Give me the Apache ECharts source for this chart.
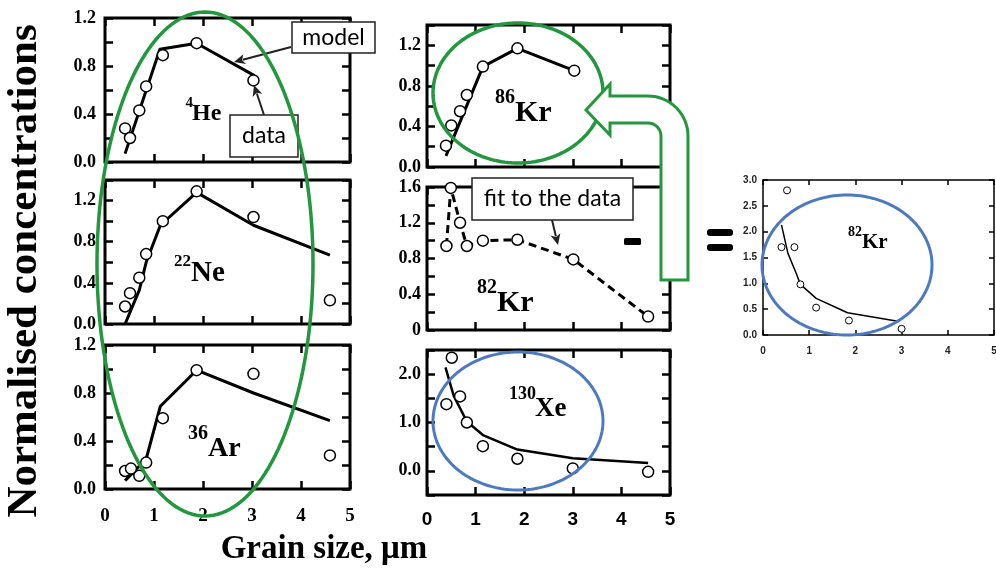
<!DOCTYPE html>
<html><head><meta charset="utf-8">
<script src="https://cdn.jsdelivr.net/npm/echarts@6/dist/echarts.min.js"></script>
<style>html,body{margin:0;padding:0;background:#fff}#c{width:996px;height:573px}</style>
</head><body><div id="c"></div>
<script>
// ---------- data ----------
const xTicks = [0, 1, 2, 3, 4, 5];
const heDataX  = [0.41, 0.51, 0.70, 0.84, 1.18, 1.87, 3.03];
const heDataY  = [0.28, 0.20, 0.43, 0.63, 0.89, 0.99, 0.68];
const heModelX = [0.41, 1.12, 1.87, 3.05];
const heModelY = [0.07, 0.94, 0.99, 0.72];

const neDataX  = [0.41, 0.51, 0.70, 0.84, 1.18, 1.87, 3.03, 4.59];
const neDataY  = [0.17, 0.30, 0.45, 0.68, 1.00, 1.29, 1.04, 0.23];
const neModelX = [0.41, 0.70, 0.84, 1.13, 1.87, 3.03, 4.59];
const neModelY = [0.00, 0.33, 0.60, 0.96, 1.28, 0.96, 0.67];

const arDataX  = [0.41, 0.53, 0.70, 0.84, 1.18, 1.87, 3.03, 4.59];
const arDataY  = [0.15, 0.17, 0.11, 0.22, 0.59, 0.99, 0.96, 0.28];
const arModelX = [0.41, 0.84, 1.13, 1.87, 3.03, 4.59];
const arModelY = [0.07, 0.25, 0.69, 0.99, 0.80, 0.57];

const kr86DataX  = [0.39, 0.50, 0.68, 0.82, 1.15, 1.86, 3.03];
const kr86DataY  = [0.21, 0.41, 0.55, 0.71, 0.99, 1.17, 0.95];
const kr86ModelX = [0.39, 1.15, 1.86, 3.03];
const kr86ModelY = [0.11, 0.99, 1.17, 0.95];

const kr82DataX = [0.40, 0.49, 0.68, 0.82, 1.15, 1.86, 3.01, 4.55];
const kr82DataY = [0.94, 1.59, 1.20, 0.94, 1.00, 1.01, 0.79, 0.15];

const xeDataX  = [0.40, 0.51, 0.68, 0.82, 1.15, 1.86, 3.00, 4.55];
const xeDataY  = [1.38, 2.34, 1.54, 1.00, 0.51, 0.25, 0.05, -0.02];
const xeModelX = [0.38, 0.55, 0.82, 1.15, 1.86, 3.00, 4.55];
const xeModelY = [2.14, 1.55, 1.02, 0.74, 0.44, 0.26, 0.16];

const kr82rDataX  = [0.40, 0.52, 0.68, 0.81, 1.15, 1.86, 3.00];
const kr82rDataY  = [1.70, 2.80, 1.70, 0.98, 0.53, 0.28, 0.12];
const kr82rModelX = [0.40, 0.54, 0.72, 0.81, 1.15, 1.83, 2.95];
const kr82rModelY = [2.13, 1.58, 1.19, 0.98, 0.71, 0.43, 0.26];

// ---------- builders ----------
const SERIF = '"Liberation Serif", "DejaVu Serif", serif';
const SANS = '"Liberation Sans", Arial, sans-serif';
const grids = [], xAxes = [], yAxes = [], series = [];
const pair = (xs, ys) => xs.map((x, i) => [x, ys[i]]);
const near = (v, s) => Math.abs(v / s - Math.round(v / s)) < 1e-6;

function addPanel(box, o) {
  const gi = grids.length;
  grids.push({left: box[0], top: box[1], width: box[2], height: box[3], show: true,
    borderColor: '#000', borderWidth: o.bw, backgroundColor: 'rgba(0,0,0,0)',
    containLabel: false, outerBoundsMode: 'none'});
  const tick = {show: true, inside: true, length: o.tl, lineStyle: {color: '#000', width: o.tw}};
  const base = {gridIndex: gi, type: 'value', axisLine: {show: false, onZero: false}, splitLine: {show: false}, axisTick: tick};
  xAxes.push(Object.assign({}, base, {min: xTicks[0], max: xTicks[xTicks.length - 1], interval: 1, position: 'bottom',
    axisLabel: o.xl ? Object.assign({show: true, color: '#000', fontWeight: 'bold'}, o.xl) : {show: false}}));
  xAxes.push(Object.assign({}, base, {min: xTicks[0], max: xTicks[xTicks.length - 1], interval: 1, position: 'top', axisLabel: {show: false}}));
  yAxes.push(Object.assign({}, base, {min: o.ymin, max: o.ymax, interval: o.yi, position: 'left',
    axisLabel: Object.assign({show: true, color: '#000', fontWeight: 'bold'}, o.yl)}));
  yAxes.push(Object.assign({}, base, {min: o.ymin, max: o.ymax, interval: o.yi, position: 'right', axisLabel: {show: false}}));
  return {x: xAxes.length - 2, y: yAxes.length - 2};
}
function addLine(p, xs, ys, w, type) {
  series.push({type: 'line', xAxisIndex: p.x, yAxisIndex: p.y, data: pair(xs, ys), symbol: 'none', showSymbol: false,
    lineStyle: {color: '#000', width: w, type: type || 'solid'}, silent: true, animation: false, z: 3});
}
function addDots(p, xs, ys, size, bw) {
  series.push({type: 'scatter', xAxisIndex: p.x, yAxisIndex: p.y, data: pair(xs, ys), symbol: 'circle', symbolSize: size,
    itemStyle: {color: '#fff', borderColor: '#000', borderWidth: bw, opacity: 1}, silent: true, animation: false, z: 4});
}

const leftY = {fontFamily: SERIF, fontSize: 18, margin: 9, formatter: v => near(v, 0.4) ? v.toFixed(1) : ''};
const midY = {fontFamily: SERIF, fontSize: 18, margin: 6, formatter: v => near(v, 0.4) ? v.toFixed(1) : ''};
const big = {bw: 3, tl: 8, tw: 2.5};

const pHe = addPanel([105, 18, 245, 144], Object.assign({}, big, {ymin: 0, ymax: 1.2, yi: 0.2, yl: leftY}));
const pNe = addPanel([105, 180, 245, 144], Object.assign({}, big, {ymin: 0, ymax: 1.4, yi: 0.2, yl: leftY}));
const pAr = addPanel([105, 345, 245, 144], Object.assign({}, big, {ymin: 0, ymax: 1.2, yi: 0.2, yl: leftY,
  xl: {fontFamily: SERIF, fontSize: 19, margin: 18}}));
const pK86 = addPanel([427, 25, 243, 142], Object.assign({}, big, {ymin: 0, ymax: 1.4, yi: 0.2, yl: midY}));
const pK82 = addPanel([427, 187, 243, 143], Object.assign({}, big, {ymin: 0, ymax: 1.6, yi: 0.2,
  yl: Object.assign({}, midY, {formatter: v => v === 0 ? '0' : (near(v, 0.4) ? v.toFixed(1) : '')})}));
const pXe = addPanel([427, 350, 243, 145], Object.assign({}, big, {ymin: -0.5, ymax: 2.5, yi: 0.5,
  yl: Object.assign({}, midY, {formatter: v => near(v, 1) ? v.toFixed(1) : ''}),
  xl: {fontFamily: SANS, fontSize: 19, margin: 15}}));
const pR = addPanel([763, 180, 231, 155], {bw: 1.5, tl: 5, tw: 1.5, ymin: 0, ymax: 3, yi: 0.5,
  yl: {fontFamily: SANS, fontSize: 10, margin: 6, color: '#222', formatter: v => v.toFixed(1)},
  xl: {fontFamily: SANS, fontSize: 10, margin: 11, color: '#222'}});

addLine(pHe, heModelX, heModelY, 3);    addDots(pHe, heDataX, heDataY, 11, 1.5);
addLine(pNe, neModelX, neModelY, 3);    addDots(pNe, neDataX, neDataY, 11, 1.5);
addLine(pAr, arModelX, arModelY, 3);    addDots(pAr, arDataX, arDataY, 11, 1.5);
addLine(pK86, kr86ModelX, kr86ModelY, 3); addDots(pK86, kr86DataX, kr86DataY, 11, 1.5);
addLine(pK82, kr82DataX, kr82DataY, 3, [8, 5]); addDots(pK82, kr82DataX, kr82DataY, 11, 1.5);
addLine(pXe, xeModelX, xeModelY, 2.5);  addDots(pXe, xeDataX, xeDataY, 11, 1.5);
addLine(pR, kr82rModelX, kr82rModelY, 1.5); addDots(pR, kr82rDataX, kr82rDataY, 7, 1);

// ---------- decorations ----------
const GREEN = '#22973d', BLUE = '#4d79c2';
const g = [];
function ellipse(cx, cy, rx, ry, color, w) {
  const pts = [];
  for (let i = 0; i < 160; i++) { const a = i / 160 * 2 * Math.PI; pts.push([cx + rx * Math.cos(a), cy + ry * Math.sin(a)]); }
  g.push({type: 'polygon', shape: {points: pts}, style: {fill: 'none', stroke: color, lineWidth: w}, z: 50, silent: true});
}
function text(x, y, s, size, fam, weight, align, z, extra) {
  g.push(Object.assign({type: 'text', x: x, y: y, z: z || 45, silent: true,
    style: {text: s, fontSize: size, fontFamily: fam, fontWeight: weight, fill: '#000', align: align || 'left', verticalAlign: 'middle'}}, extra || {}));
}
function label(supRight, supY, sup, supSize, mainLeft, mainY, main, mainSize) {
  text(supRight, supY, sup, supSize, SERIF, 'bold', 'right');
  text(mainLeft, mainY, main, mainSize, SERIF, 'bold', 'left');
}
function box(x, y, w, h, s, size) {
  g.push({type: 'rect', shape: {x: x, y: y, width: w, height: h}, style: {fill: '#fff', stroke: '#222', lineWidth: 1.5}, z: 40, silent: true});
  text(x + w / 2, y + h / 2, s, size, 'Lato, "Open Sans", sans-serif', 'normal', 'center', 41);
}
function arrow(x1, y1, x2, y2, w, hl, hw) {
  const dx = x2 - x1, dy = y2 - y1, L = Math.hypot(dx, dy), ux = dx / L, uy = dy / L;
  const bx = x2 - ux * hl, by = y2 - uy * hl;
  g.push({type: 'line', shape: {x1: x1, y1: y1, x2: bx + ux * 2, y2: by + uy * 2}, style: {stroke: '#222', lineWidth: w}, z: 42, silent: true});
  g.push({type: 'polygon', shape: {points: [[x2, y2], [bx - uy * hw, by + ux * hw], [bx + ux * hl * 0.25, by + uy * hl * 0.25], [bx + uy * hw, by - ux * hw]]},
    style: {fill: '#222'}, z: 42, silent: true});
}

// axis titles
text(25, 271, 'Normalised concentrations', 43, SERIF, 'bold', 'center', 45, {rotation: Math.PI / 2});
text(324, 549, 'Grain size, μm', 33, SERIF, 'bold', 'center');

// panel labels
label(193, 103, '4', 15, 192, 114, 'He', 24);
label(191, 262, '22', 17, 191, 274, 'Ne', 29);
label(208, 434, '36', 20, 208, 449, 'Ar', 28);
label(515, 98, '86', 20, 515, 113, 'Kr', 30);
label(497, 288, '82', 20, 497, 303, 'Kr', 30);
label(536, 394, '130', 18, 535, 409, 'Xe', 27);
label(862, 232, '82', 14, 862, 243, 'Kr', 21);

// annotation boxes and arrows
box(292, 22, 83, 31, 'model', 23);
arrow(291, 47, 234, 62, 2, 11, 5);
box(230, 115, 68, 42, 'data', 23);
arrow(264, 115, 254, 85, 2, 11, 5);
box(472, 178, 161, 42, 'fit to the data', 23);
arrow(552, 220, 558, 245, 2, 11, 5);

// minus and equals signs
g.push({type: 'rect', shape: {x: 624, y: 238, width: 17, height: 7, r: 1.5}, style: {fill: '#000'}, z: 45, silent: true});
g.push({type: 'rect', shape: {x: 707, y: 229, width: 26, height: 7, r: 3}, style: {fill: '#000'}, z: 45, silent: true});
g.push({type: 'rect', shape: {x: 707, y: 244, width: 26, height: 7, r: 3}, style: {fill: '#000'}, z: 45, silent: true});

// ellipses
ellipse(205, 264, 108, 252, GREEN, 3.5);
ellipse(518, 93, 85, 70, GREEN, 3.5);
ellipse(518, 421, 85, 69, BLUE, 3);
ellipse(847, 265, 85, 70, BLUE, 3);

// green U-shaped arrow
(function () {
  const pts = [[586, 110], [610, 84], [610, 96], [648, 96]];
  for (let i = 1; i <= 16; i++) { const a = -Math.PI / 2 + i / 16 * Math.PI / 2; pts.push([648 + 40 * Math.cos(a), 136 + 40 * Math.sin(a)]); }
  pts.push([688, 280], [661, 280], [661, 136]);
  for (let i = 1; i <= 8; i++) { const a = -i / 8 * Math.PI / 2; pts.push([648 + 13 * Math.cos(a), 136 + 13 * Math.sin(a)]); }
  pts.push([610, 123], [610, 135]);
  g.push({type: 'polygon', shape: {points: pts}, style: {fill: '#fff', stroke: GREEN, lineWidth: 3, lineJoin: 'miter'}, z: 60, silent: true});
})();

const chart = echarts.init(document.getElementById('c'), null, {renderer: 'canvas'});
chart.setOption({
  animation: false,
  backgroundColor: '#fff',
  grid: grids, xAxis: xAxes, yAxis: yAxes, series: series,
  graphic: {elements: g}
});
</script></body></html>
